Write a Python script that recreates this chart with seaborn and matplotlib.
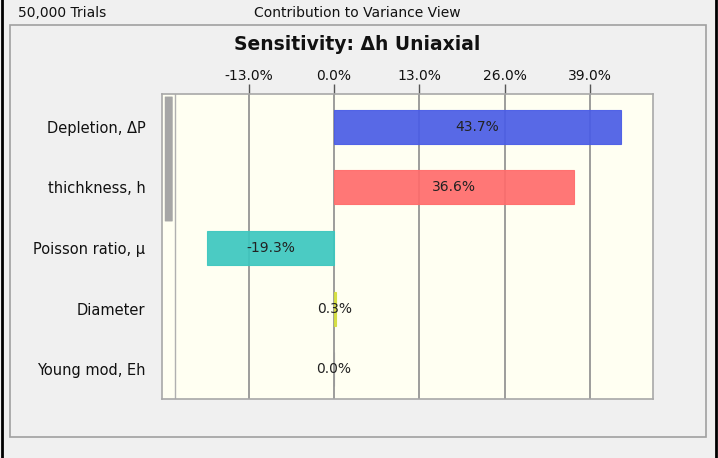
import matplotlib
matplotlib.use('Agg')
import matplotlib.pyplot as plt
import matplotlib.patches as mpatches
import pandas as pd
import seaborn as sns

# data
factors = ['Depletion, \u0394P', 'thichkness, h', 'Poisson ratio, \u03bc',
           'Diameter', 'Young mod, Eh']
contrib = [43.7, 36.6, -19.3, 0.3, 0.0]
bar_colors = ['#4a5ce6', '#ff6b6b', '#3cc7bf', '#d4de3c', '#999999']
xticks = [-13.0, 0.0, 13.0, 26.0, 39.0]

df = pd.DataFrame({'factor': factors, 'value': contrib})

W, H = 718, 458
fig = plt.figure(figsize=(W / 100, H / 100), dpi=100)
fig.patch.set_facecolor('#f0f0f0')

# panel frame and window edges
fig.add_artist(mpatches.Rectangle((10 / W, 1 - 437 / H), 696 / W, 412 / H,
                                  transform=fig.transFigure, fill=False,
                                  edgecolor='#a0a0a0', lw=1.2))
fig.add_artist(plt.Line2D([1.5 / W, 1.5 / W], [0, 1], color='black', lw=2,
                          transform=fig.transFigure))
fig.add_artist(plt.Line2D([1 - 2.5 / W, 1 - 2.5 / W], [0, 1], color='black',
                          lw=2, transform=fig.transFigure))

fig.text(18 / W, 1 - 13 / H, '50,000 Trials', fontsize=10, va='center',
         color='#111111')
fig.text(357 / W, 1 - 13 / H, 'Contribution to Variance View', fontsize=10,
         va='center', ha='center', color='#111111')
fig.text(357 / W, 1 - 44 / H, 'Sensitivity: \u0394h Uniaxial', fontsize=13.5,
         fontweight='bold', va='center', ha='center', color='#111111')

ax = fig.add_axes([162 / W, 1 - 399 / H, (653 - 162) / W, (399 - 94) / H])
ax.set_facecolor('#fffff2')

for t in xticks:
    ax.axvline(t, color='#8c8c8c', lw=1.2, zorder=0)
ax.axvline(-24.25, color='#b0b0b0', lw=1, zorder=0)

sns.barplot(data=df, x='value', y='factor', hue='factor', palette=bar_colors,
            orient='h', width=0.56, legend=False, ax=ax, alpha=0.92,
            saturation=1, zorder=2)
for patch, c in zip(ax.patches, bar_colors):
    patch.set_edgecolor(c)
    patch.set_linewidth(0.8)

for i, v in enumerate(contrib):
    ax.text(v / 2, i, f'{v:.1f}%', ha='center', va='center', fontsize=10,
            color='#222222', zorder=3)

ax.set_xlim(-26.2, 48.6)
ax.set_ylim(4.49, -0.54)
ax.set_xticks(xticks)
ax.set_xticklabels([f'{t:.1f}%' for t in xticks], fontsize=10,
                   color='#111111')
ax.xaxis.tick_top()
ax.tick_params(axis='x', direction='out', length=7, width=1,
               color='#555555', pad=1)
ax.tick_params(axis='y', length=0, labelsize=10.5, pad=12,
               labelcolor='#111111')
ax.set_xlabel('')
ax.set_ylabel('')
for s in ax.spines.values():
    s.set_color('#a8a8a8')
    s.set_linewidth(1.2)

# scroll thumb in the left strip
fig.add_artist(mpatches.FancyBboxPatch((165.5 / W, 1 - 221 / H), 6.5 / W,
                                       124 / H, transform=fig.transFigure,
                                       boxstyle='round,pad=0.001',
                                       facecolor='#a6a6a6', edgecolor='none'))

fig.savefig('out.png', dpi=100, facecolor=fig.get_facecolor())
